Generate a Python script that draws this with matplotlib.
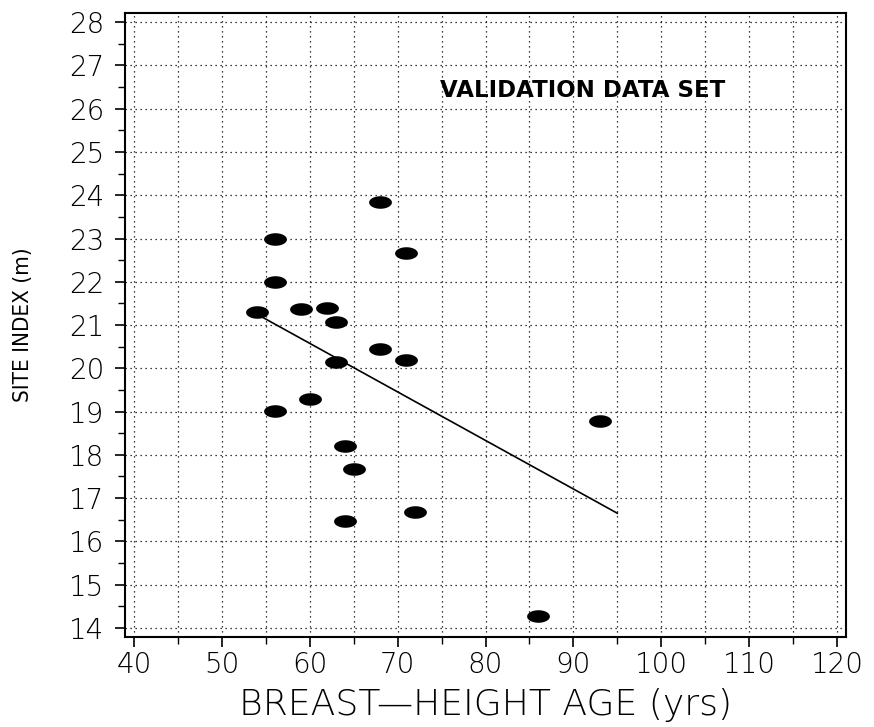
import matplotlib
matplotlib.use("Agg")
import matplotlib.pyplot as plt
import numpy as np
from matplotlib.path import Path
from matplotlib.ticker import MultipleLocator

# Data
ages = [54, 56, 56, 56, 59, 60, 62, 63, 63, 64, 64, 65, 68, 68, 71, 71, 72, 86, 93]
site_index = [21.3, 23.0, 22.0, 19.02, 21.37, 19.3, 21.4, 21.08, 20.14, 18.2,
              16.48, 17.68, 23.84, 20.45, 22.66, 20.2, 16.69, 14.28, 18.78]
line_x = [54, 95]
line_y = [21.25, 16.65]
x_ticks = [40, 50, 60, 70, 80, 90, 100, 110, 120]
y_ticks = list(range(14, 29))

fig = plt.figure(figsize=(8.74, 7.27), dpi=100)
ax = fig.add_axes([0.143, 0.1238, 0.825, 0.8582])

# ellipse marker
t = np.linspace(0, 2 * np.pi, 60)
verts = np.column_stack([np.cos(t), 0.55 * np.sin(t)])
ell = Path(verts, closed=True)

ax.plot(line_x, line_y, color='black', lw=1.2, zorder=3)
ax.scatter(ages, site_index, marker=ell, s=270, color='black', zorder=4, linewidths=0)

ax.set_xlim(38.98, 121.02)
ax.set_ylim(13.79, 28.21)
ax.set_xticks(x_ticks)
ax.set_yticks(y_ticks)
ax.xaxis.set_minor_locator(MultipleLocator(5))
ax.yaxis.set_minor_locator(MultipleLocator(0.5))

ax.grid(True, which='major', axis='y', linestyle=(0, (1, 3)), color='black', lw=0.9)
ax.grid(True, which='both', axis='x', linestyle=(0, (1, 3)), color='black', lw=0.9)
ax.grid(False, which='minor', axis='y')

tickfont = dict(family='DejaVu Sans', weight='light', size=20)
ax.set_xticklabels([str(v) for v in x_ticks], **tickfont)
ax.set_yticklabels([str(v) for v in y_ticks], **tickfont)
ax.tick_params(axis='both', which='major', direction='out', length=7, width=1.2, colors='black')
ax.tick_params(axis='both', which='minor', direction='out', length=5, width=1.0)
ax.tick_params(axis='x', which='major', pad=3)
ax.tick_params(axis='y', which='major', pad=8)

for s in ax.spines.values():
    s.set_linewidth(1.5)
    s.set_color('black')

fig.text(0.555, 1 - 705 / 727, 'BREAST\u2014HEIGHT AGE (yrs)', family='DejaVu Sans',
         weight='light', size=26, ha='center', va='center')
ax.set_ylabel('SITE INDEX (m)', family='DejaVu Sans', fontstretch='condensed', size=16)
ax.yaxis.set_label_coords(-0.128, 0.5)

ax.text(74.8, 26.43, 'VALIDATION DATA SET', family='DejaVu Sans', weight='bold', size=16.5,
        va='center', ha='left', zorder=5)

fig.savefig('out.png', dpi=100)
